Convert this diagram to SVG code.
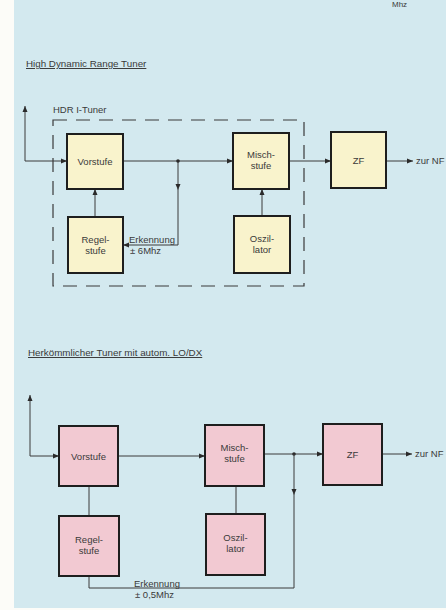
<svg xmlns="http://www.w3.org/2000/svg" width="446" height="610" viewBox="0 0 446 610">
<defs>
<marker id="ah" markerWidth="8" markerHeight="8" refX="7" refY="4" orient="auto" markerUnits="userSpaceOnUse">
<path d="M1,1.5 L7,4 L1,6.5 Z" fill="#2a2a2a"/>
</marker>
<marker id="mid" markerWidth="8" markerHeight="8" refX="4" refY="4" orient="auto" markerUnits="userSpaceOnUse">
<path d="M1,1.5 L7,4 L1,6.5 Z" fill="#2a2a2a"/>
</marker>
</defs>
<style>
text{font-family:"Liberation Sans",Arial,sans-serif;fill:#3a3a3a}
.lbl{font-size:9.5px;text-anchor:middle}
.small{font-size:9.5px}
.title{font-size:9.8px;text-decoration:underline}
.y{fill:#f9f3cc;stroke:#1e1e1e;stroke-width:2}
.p{fill:#f2c9d2;stroke:#1e1e1e;stroke-width:2}
.ln{fill:none;stroke:#3a3a3a;stroke-width:1}
.dash{fill:none;stroke:#3a3a3a;stroke-width:1.2;stroke-dasharray:14,9}
</style>
<rect x="0" y="0" width="446" height="610" fill="#fcfcf8"/>
<rect x="14" y="0" width="432" height="608" fill="#d3e9ef"/>
<text x="392" y="7" font-size="8">Mhz</text>

<text class="title" x="26" y="67">High Dynamic Range Tuner</text>
<text class="small" x="53" y="113">HDR I-Tuner</text>
<rect class="dash" x="53" y="120" width="251" height="166"/>

<g id="connectors-top">
<path class="ln" d="M25,161 L25,106" marker-end="url(#ah)"/>
<path class="ln" d="M25,161 L67,161" marker-end="url(#ah)"/>
<path class="ln" d="M123,161 L233,161" marker-end="url(#ah)"/>
<path class="ln" d="M178,161 L178,187" marker-end="url(#mid)"/>
<path class="ln" d="M178,187 L178,245 L123,245" marker-end="url(#ah)"/>
<circle cx="178" cy="161" r="1.8" fill="#2a2a2a"/>
<path class="ln" d="M95,217 L95,189" marker-end="url(#ah)"/>
<path class="ln" d="M262,216 L262,189" marker-end="url(#ah)"/>
<path class="ln" d="M289,161 L331,161" marker-end="url(#ah)"/>
<path class="ln" d="M386,161 L413,161" marker-end="url(#ah)"/>
</g>
<text class="small" x="129" y="243">Erkennung</text>
<text class="small" x="130" y="254">± 6Mhz</text>
<text class="small" x="416" y="164">zur NF</text>

<g id="vorstufe1"><rect class="y" x="67" y="134" width="56" height="55"/><text class="lbl" x="95" y="165">Vorstufe</text></g>
<g id="regelstufe1"><rect class="y" x="68" y="217" width="55" height="56"/><text class="lbl" x="95.5" y="243">Regel-</text><text class="lbl" x="95.5" y="254">stufe</text></g>
<g id="mischstufe1"><rect class="y" x="233" y="133" width="56" height="56"/><text class="lbl" x="261" y="158">Misch-</text><text class="lbl" x="261" y="169">stufe</text></g>
<g id="oszillator1"><rect class="y" x="234" y="216" width="56" height="57"/><text class="lbl" x="262" y="242">Oszil-</text><text class="lbl" x="262" y="253">lator</text></g>
<g id="zf1"><rect class="y" x="331" y="132" width="55" height="56"/><text class="lbl" x="358.5" y="164">ZF</text></g>

<text class="title" x="28" y="356">Herkömmlicher Tuner mit autom. LO/DX</text>

<g id="connectors-bottom">
<path class="ln" d="M30,456 L30,395" marker-end="url(#ah)"/>
<path class="ln" d="M30,456 L59,456" marker-end="url(#ah)"/>
<path class="ln" d="M118,456 L205,456" marker-end="url(#ah)"/>
<path class="ln" d="M264,454 L323,454" marker-end="url(#ah)"/>
<circle cx="294" cy="454" r="1.8" fill="#2a2a2a"/>
<path class="ln" d="M294,454 L294,492" marker-end="url(#mid)"/>
<path class="ln" d="M294,492 L294,588 L89,588 L89,576"/>
<path class="ln" d="M89,486 L89,516"/>
<path class="ln" d="M236,486 L236,514"/>
<path class="ln" d="M382,454 L412,454" marker-end="url(#ah)"/>
</g>
<text class="small" x="134" y="587">Erkennung</text>
<text class="small" x="135" y="598">± 0,5Mhz</text>
<text class="small" x="415" y="457">zur NF</text>

<g id="vorstufe2"><rect class="p" x="59" y="426" width="59" height="60"/><text class="lbl" x="88.5" y="460">Vorstufe</text></g>
<g id="regelstufe2"><rect class="p" x="59" y="516" width="60" height="60"/><text class="lbl" x="89" y="543">Regel-</text><text class="lbl" x="89" y="554">stufe</text></g>
<g id="mischstufe2"><rect class="p" x="205" y="425" width="59" height="61"/><text class="lbl" x="234.5" y="451">Misch-</text><text class="lbl" x="234.5" y="462">stufe</text></g>
<g id="oszillator2"><rect class="p" x="206" y="514" width="59" height="61"/><text class="lbl" x="235.5" y="541">Oszil-</text><text class="lbl" x="235.5" y="552">lator</text></g>
<g id="zf2"><rect class="p" x="323" y="424" width="59" height="61"/><text class="lbl" x="352.5" y="458">ZF</text></g>
</svg>
